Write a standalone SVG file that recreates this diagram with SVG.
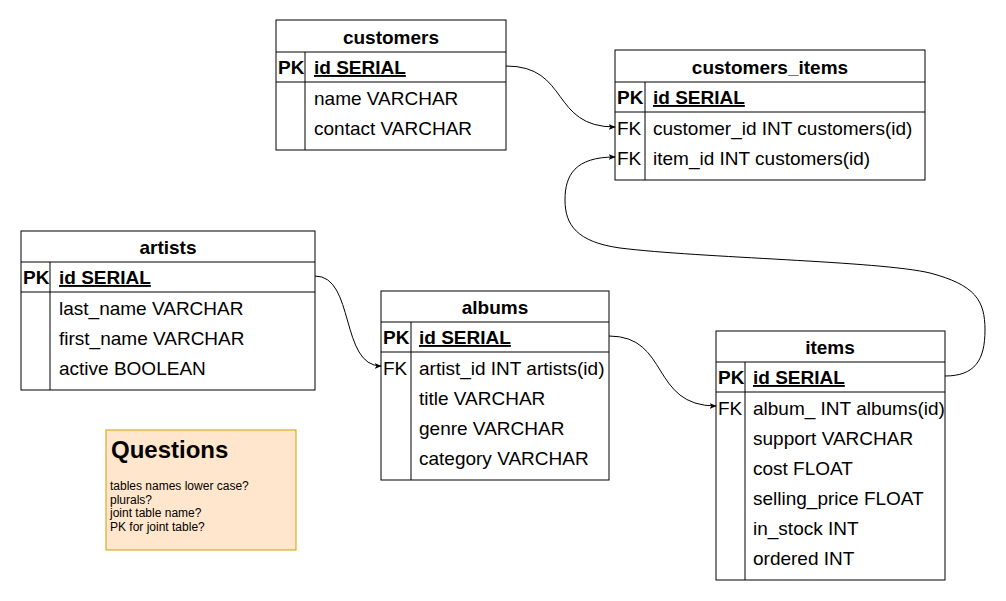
<svg xmlns="http://www.w3.org/2000/svg" width="1006" height="601" viewBox="0 0 1006 601">
<style>
.box{fill:#ffffff;stroke:#000000;stroke-width:1}
.ln{stroke:#000000;stroke-width:1;fill:none}
.t{font-family:"Liberation Sans",Arial,Helvetica,sans-serif;font-size:19px;font-weight:bold;text-anchor:middle;fill:#000}
.k{font-family:"Liberation Sans",Arial,Helvetica,sans-serif;font-size:19px;fill:#000}
.kb{font-family:"Liberation Sans",Arial,Helvetica,sans-serif;font-size:19px;font-weight:bold;fill:#000}
.pk{font-family:"Liberation Sans",Arial,Helvetica,sans-serif;font-size:19px;font-weight:bold;text-decoration:underline;fill:#000}
.f{font-family:"Liberation Sans",Arial,Helvetica,sans-serif;font-size:19px;fill:#000}
.edge{fill:none;stroke:#000000;stroke-width:1}
</style>
<defs>
<marker id="arr" viewBox="0 0 10 10" refX="9" refY="5" markerWidth="7" markerHeight="7" markerUnits="userSpaceOnUse" orient="auto">
<path d="M0,1 L10,5 L0,9 L2.5,5 z" fill="#000"/>
</marker>
</defs>
<rect x="0" y="0" width="1006" height="601" fill="#ffffff"/>

<g id="customers">
<rect class="box" x="276" y="20" width="230" height="130"/>
<line class="ln" x1="276" y1="52" x2="506" y2="52"/>
<line class="ln" x1="276" y1="82" x2="506" y2="82"/>
<line class="ln" x1="305" y1="52" x2="305" y2="150"/>
<text class="t" x="391" y="44">customers</text>
<text class="kb" x="278" y="74">PK</text>
<text class="pk" x="314" y="74">id SERIAL</text>
<text class="f" x="314" y="105">name VARCHAR</text>
<text class="f" x="314" y="135">contact VARCHAR</text>
</g>

<g id="customers_items">
<rect class="box" x="615" y="50" width="310" height="130"/>
<line class="ln" x1="615" y1="82" x2="925" y2="82"/>
<line class="ln" x1="615" y1="112" x2="925" y2="112"/>
<line class="ln" x1="645" y1="82" x2="645" y2="180"/>
<text class="t" x="770" y="74">customers_items</text>
<text class="kb" x="617" y="104">PK</text>
<text class="pk" x="653" y="104">id SERIAL</text>
<text class="k" x="617" y="135">FK</text>
<text class="f" x="653" y="135">customer_id INT customers(id)</text>
<text class="k" x="617" y="165">FK</text>
<text class="f" x="653" y="165">item_id INT customers(id)</text>
</g>

<g id="artists">
<rect class="box" x="21" y="231" width="294" height="159"/>
<line class="ln" x1="21" y1="262" x2="315" y2="262"/>
<line class="ln" x1="21" y1="292" x2="315" y2="292"/>
<line class="ln" x1="50" y1="262" x2="50" y2="390"/>
<text class="t" x="168" y="254">artists</text>
<text class="kb" x="23" y="284">PK</text>
<text class="pk" x="59" y="284">id SERIAL</text>
<text class="f" x="59" y="315">last_name VARCHAR</text>
<text class="f" x="59" y="345">first_name VARCHAR</text>
<text class="f" x="59" y="375">active BOOLEAN</text>
</g>

<g id="albums">
<rect class="box" x="381" y="291" width="228" height="189"/>
<line class="ln" x1="381" y1="322" x2="609" y2="322"/>
<line class="ln" x1="381" y1="352" x2="609" y2="352"/>
<line class="ln" x1="411" y1="322" x2="411" y2="480"/>
<text class="t" x="495" y="314">albums</text>
<text class="kb" x="383" y="344">PK</text>
<text class="pk" x="419" y="344">id SERIAL</text>
<text class="k" x="383" y="375">FK</text>
<text class="f" x="419" y="375">artist_id INT artists(id)</text>
<text class="f" x="419" y="405">title VARCHAR</text>
<text class="f" x="419" y="435">genre VARCHAR</text>
<text class="f" x="419" y="465">category VARCHAR</text>
</g>

<g id="items">
<rect class="box" x="716" y="331" width="229" height="249"/>
<line class="ln" x1="716" y1="362" x2="945" y2="362"/>
<line class="ln" x1="716" y1="392" x2="945" y2="392"/>
<line class="ln" x1="745" y1="362" x2="745" y2="580"/>
<text class="t" x="830" y="354">items</text>
<text class="kb" x="718" y="384">PK</text>
<text class="pk" x="753" y="384">id SERIAL</text>
<text class="k" x="718" y="415">FK</text>
<text class="f" x="753" y="415">album_ INT albums(id)</text>
<text class="f" x="753" y="445">support VARCHAR</text>
<text class="f" x="753" y="475">cost FLOAT</text>
<text class="f" x="753" y="505">selling_price FLOAT</text>
<text class="f" x="753" y="535">in_stock INT</text>
<text class="f" x="753" y="565">ordered INT</text>
</g>

<g id="questions">
<rect x="106" y="430" width="190" height="120" fill="#ffe6cc" stroke="#d79b00" stroke-width="1"/>
<text x="111" y="458" font-family="'Liberation Sans',Arial,Helvetica,sans-serif" font-size="24" font-weight="bold" fill="#000">Questions</text>
<text font-family="'Liberation Sans',Arial,Helvetica,sans-serif" font-size="12" fill="#000">
<tspan x="110" y="490">tables names lower case?</tspan>
<tspan x="110" y="504">plurals?</tspan>
<tspan x="110" y="517">joint table name?</tspan>
<tspan x="110" y="531">PK for joint table?</tspan>
</text>
</g>

<g id="connectors">
<path class="edge" d="M506,66 C570,66 550,127 615,127" marker-end="url(#arr)"/>
<path class="edge" d="M315,276 C355,276 340,366 381,366" marker-end="url(#arr)"/>
<path class="edge" d="M609,336 C670,336 650,406 716,406" marker-end="url(#arr)"/>
<path class="edge" d="M945,376 C975,376 985,360 985,330 C985,300 975,285 930,273 C880,261 700,258 620,248 C577,242 565,225 565,200 C565,175 575,157 615,157" marker-end="url(#arr)"/>
</g>
</svg>
